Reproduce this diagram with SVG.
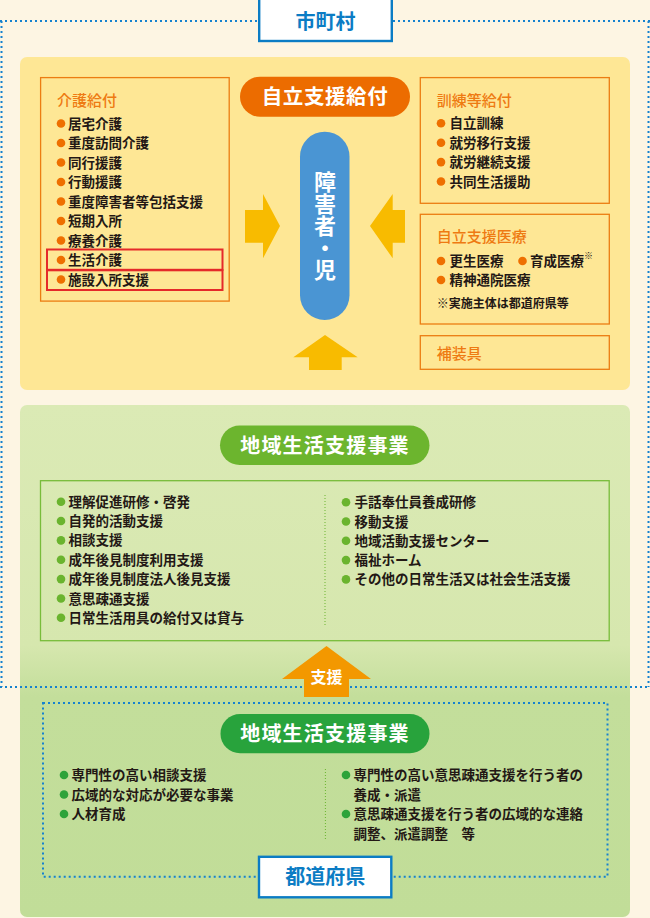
<svg xmlns="http://www.w3.org/2000/svg" width="650" height="918" viewBox="0 0 650 918">
<defs>
<linearGradient id="greenGrad" x1="0" y1="405" x2="0" y2="917" gradientUnits="userSpaceOnUse">
<stop offset="0" stop-color="#dbeab5"/>
<stop offset="0.47" stop-color="#d6e7ae"/>
<stop offset="0.57" stop-color="#c3de9b"/>
<stop offset="1" stop-color="#c1dd98"/>
</linearGradient>
<style>
text{font-family:"Noto Sans CJK JP","Noto Sans",sans-serif;}
.item{font-size:13.5px;fill:#231815;font-weight:bold;}
.ttl{font-size:15px;fill:#ee7a12;font-weight:500;}
.obox{fill:none;stroke:#ec7d12;stroke-width:1.3;}
.ob{fill:#ee6f00;}
.gb{fill:#6ab42e;}
.db{fill:#2ea33a;}
.blueDot{fill:none;stroke:#1582cf;stroke-width:2;stroke-dasharray:2 3;}
.gDot{fill:none;stroke:#6ab42e;stroke-width:1;stroke-dasharray:1 2;}
.lbl{fill:#ffffff;stroke:#0b7cc4;stroke-width:2.4;}
.lblt{font-size:20px;fill:#0b7cc4;font-weight:bold;text-anchor:middle;}
.pillt{fill:#ffffff;font-weight:bold;text-anchor:middle;}
.yarrow{fill:#f8bb00;}
</style>
</defs>
<rect x="0" y="0" width="650" height="918" fill="#fdf5e3"/>

<g id="municipal-border">
<path class="blueDot" d="M0 21 H258 M393 21 H650 M1.5 21 V687 M648.5 21 V687"/>
</g>

<g id="benefits-panel">
<rect x="20" y="57" width="610" height="333" rx="7" fill="#fee795"/>
</g>

<g id="community-panel">
<rect x="20" y="405" width="610" height="512" rx="7" fill="url(#greenGrad)"/>
</g>

<path class="blueDot" d="M0 687 H650"/>

<g id="label-municipality">
<rect class="lbl" x="259.2" y="-2" width="132.6" height="43"/>
<text class="lblt" x="325.5" y="29">市町村</text>
</g>

<g id="kaigo-kyufu">
<rect class="obox" x="40.6" y="77.6" width="188.6" height="223.5"/>
<text class="ttl" x="57" y="105.5">介護給付</text>
<g class="ob">
<circle cx="61" cy="123.5" r="4.3"/><circle cx="61" cy="143" r="4.3"/><circle cx="61" cy="162.5" r="4.3"/>
<circle cx="61" cy="182" r="4.3"/><circle cx="61" cy="201.5" r="4.3"/><circle cx="61" cy="221" r="4.3"/>
<circle cx="61" cy="240.5" r="4.3"/><circle cx="61" cy="260" r="4.3"/><circle cx="61" cy="279.5" r="4.3"/>
</g>
<text class="item" x="68" y="128.5">居宅介護</text>
<text class="item" x="68" y="148">重度訪問介護</text>
<text class="item" x="68" y="167.5">同行援護</text>
<text class="item" x="68" y="187">行動援護</text>
<text class="item" x="68" y="206.5">重度障害者等包括支援</text>
<text class="item" x="68" y="226">短期入所</text>
<text class="item" x="68" y="245.5">療養介護</text>
<text class="item" x="68" y="265">生活介護</text>
<text class="item" x="68" y="284.5">施設入所支援</text>
<rect x="47" y="249.5" width="175.5" height="20.3" fill="none" stroke="#e52a2a" stroke-width="2"/>
<rect x="47" y="270.3" width="175.5" height="19.7" fill="none" stroke="#e52a2a" stroke-width="2"/>
</g>

<g id="jiritsu-shien-kyufu">
<rect x="240" y="76.7" width="170" height="40" rx="20" fill="#ec6c00"/>
<text class="pillt" x="325" y="104" font-size="20.5" letter-spacing="0.6">自立支援給付</text>
</g>

<g id="person">
<rect x="300" y="131.7" width="49.5" height="188.3" rx="24.7" fill="#4a95d3"/>
<text x="325" y="170.5" font-size="22" fill="#ffffff" font-weight="bold" style="writing-mode:vertical-rl">障害者・児</text>
</g>

<g id="kunren-kyufu">
<rect class="obox" x="420.3" y="77.6" width="189" height="125.7"/>
<text class="ttl" x="436.7" y="105.5">訓練等給付</text>
<g class="ob">
<circle cx="441" cy="123.3" r="4.3"/><circle cx="441" cy="142.7" r="4.3"/><circle cx="441" cy="162.1" r="4.3"/><circle cx="441" cy="181.5" r="4.3"/>
</g>
<text class="item" x="449.5" y="128.3">自立訓練</text>
<text class="item" x="449.5" y="147.7">就労移行支援</text>
<text class="item" x="449.5" y="167.1">就労継続支援</text>
<text class="item" x="449.5" y="186.5">共同生活援助</text>
</g>

<g id="jiritsu-iryo">
<rect class="obox" x="420.3" y="214.3" width="189" height="109.7"/>
<text class="ttl" x="436.7" y="241.5">自立支援医療</text>
<g class="ob">
<circle cx="441" cy="261" r="4.3"/><circle cx="522.5" cy="261" r="4.3"/><circle cx="441" cy="280" r="4.3"/>
</g>
<text class="item" x="449.5" y="266">更生医療</text>
<text class="item" x="530" y="266">育成医療</text>
<text x="584" y="259" font-size="9" fill="#231815">※</text>
<text class="item" x="449.5" y="285">精神通院医療</text>
<text x="436.7" y="307.8" font-size="12" fill="#231815" font-weight="bold">※実施主体は都道府県等</text>
</g>

<g id="hosogu">
<rect class="obox" x="420.3" y="335.7" width="189" height="33.6"/>
<text class="ttl" x="436.7" y="358.8">補装具</text>
</g>

<g id="chiiki-municipal">
<rect x="220" y="425.5" width="209.5" height="39.5" rx="19.7" fill="#6cb52e"/>
<text class="pillt" x="325" y="452.5" font-size="20" letter-spacing="1.2">地域生活支援事業</text>
<rect x="40.5" y="480.7" width="568.7" height="160" fill="none" stroke="#78bc3a" stroke-width="1.3"/>
<path class="gDot" d="M325 495 V625"/>
<g class="gb">
<circle cx="61" cy="501.7" r="4.3"/><circle cx="61" cy="521" r="4.3"/><circle cx="61" cy="540.4" r="4.3"/>
<circle cx="61" cy="559.8" r="4.3"/><circle cx="61" cy="579.1" r="4.3"/><circle cx="61" cy="598.5" r="4.3"/>
<circle cx="61" cy="617.8" r="4.3"/>
<circle cx="346" cy="502.3" r="4.3"/><circle cx="346" cy="521.5" r="4.3"/><circle cx="346" cy="540.8" r="4.3"/>
<circle cx="346" cy="560.1" r="4.3"/><circle cx="346" cy="579.4" r="4.3"/>
</g>
<text class="item" x="68.5" y="506.7">理解促進研修・啓発</text>
<text class="item" x="68.5" y="526">自発的活動支援</text>
<text class="item" x="68.5" y="545.4">相談支援</text>
<text class="item" x="68.5" y="564.8">成年後見制度利用支援</text>
<text class="item" x="68.5" y="584.1">成年後見制度法人後見支援</text>
<text class="item" x="68.5" y="603.5">意思疎通支援</text>
<text class="item" x="68.5" y="622.8">日常生活用具の給付又は貸与</text>
<text class="item" x="354.5" y="507.3">手話奉仕員養成研修</text>
<text class="item" x="354.5" y="526.5">移動支援</text>
<text class="item" x="354.5" y="545.8">地域活動支援センター</text>
<text class="item" x="354.5" y="565.1">福祉ホーム</text>
<text class="item" x="354.5" y="584.4">その他の日常生活又は社会生活支援</text>
</g>

<g id="chiiki-prefecture">
<rect class="blueDot" x="43" y="703" width="564.5" height="173.7"/>
<rect x="220.5" y="714" width="209" height="39.3" rx="19.6" fill="#28a33c"/>
<text class="pillt" x="325" y="741" font-size="20" letter-spacing="1.2">地域生活支援事業</text>
<path class="gDot" d="M325.4 769 V839"/>
<g class="db">
<circle cx="64" cy="775" r="4.3"/><circle cx="64" cy="794.5" r="4.3"/><circle cx="64" cy="814" r="4.3"/>
<circle cx="346" cy="775" r="4.3"/><circle cx="346" cy="814" r="4.3"/>
</g>
<text class="item" x="71.5" y="780">専門性の高い相談支援</text>
<text class="item" x="71.5" y="799.5">広域的な対応が必要な事業</text>
<text class="item" x="71.5" y="819">人材育成</text>
<text class="item" x="353.5" y="780">専門性の高い意思疎通支援を行う者の</text>
<text class="item" x="353.5" y="799.5">養成・派遣</text>
<text class="item" x="353.5" y="819">意思疎通支援を行う者の広域的な連絡</text>
<text class="item" x="353.5" y="838.5">調整、派遣調整　等</text>
</g>

<g id="label-prefecture">
<rect class="lbl" x="259" y="856.8" width="132.3" height="40.5"/>
<text class="lblt" x="325.2" y="884">都道府県</text>
</g>

<g id="connectors">
<polygon class="yarrow" points="245,210 263,210 263,194 280,226 263,258.3 263,242.7 245,242.7"/>
<polygon class="yarrow" points="405,210 392.7,210 392.7,194 370,226 392.7,258.3 392.7,242.7 405,242.7"/>
<polygon class="yarrow" points="325,335 357.7,357.3 341.7,357.3 341.7,370 309,370 309,357.3 293.3,357.3"/>
<polygon points="326.5,646 371,679 349,679 349,697 304,697 304,679 282,679" fill="#f39800"/>
<text class="pillt" x="326.5" y="682.5" font-size="16">支援</text>
</g>
</svg>
